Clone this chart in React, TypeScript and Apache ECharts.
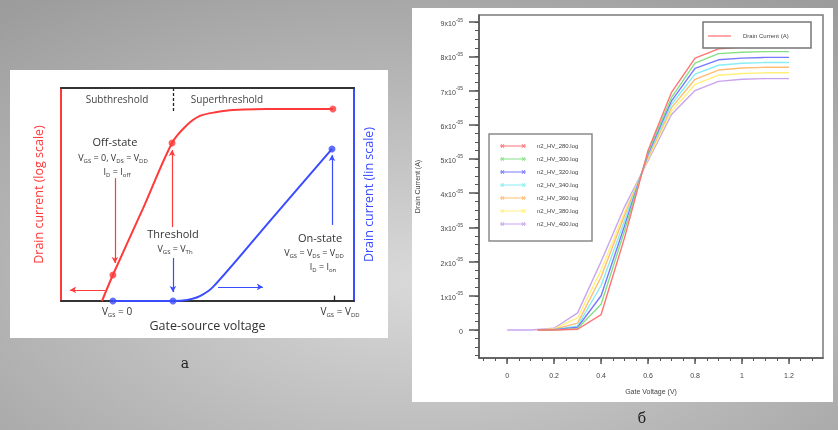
import React, { useEffect, useRef } from "react";
import * as echarts from "echarts";

// ---------- Panel "а": schematic transfer characteristic (normalised units 0..10) ----------
const LOG_CURVE_X = [1.4, 1.77, 2.8, 3.79, 4.3, 4.74, 5.32, 5.87, 7.03, 9.28];
const LOG_CURVE_Y = [0, 1.22, 4.35, 7.42, 8.26, 8.69, 8.87, 8.97, 9.01, 9.01];
const LOG_DOTS_X = [1.77, 3.79, 9.28];
const LOG_DOTS_Y = [1.22, 7.42, 9.01];
const LIN_CURVE_X = [1.77, 3.82, 4.3, 4.74, 5.19, 7.2, 9.25];
const LIN_CURVE_Y = [0, 0, 0.05, 0.23, 0.66, 3.87, 7.14];
const LIN_DOTS_X = [1.77, 3.82, 9.25];
const LIN_DOTS_Y = [0, 0, 7.14];

// ---------- Panel "б": simulated Id–Vg curves (current in units of 1e-5 A) ----------
const VG_FULL = [0, 0.1, 0.2, 0.3, 0.4, 0.5, 0.6, 0.7, 0.8, 0.9, 1.0, 1.1, 1.2];
const VG_PART = [0.13, 0.2, 0.3, 0.4, 0.5, 0.6, 0.7, 0.8, 0.9, 1.0, 1.1, 1.2];
const ID_280 = [0, 0, 0.02, 0.45, 2.7, 5.25, 6.95, 7.95, 8.22, 8.27, 8.28, 8.28];
const ID_300 = [0, 0, 0.04, 0.75, 2.9, 5.2, 6.8, 7.8, 8.08, 8.12, 8.14, 8.14];
const ID_320 = [0, 0.01, 0.08, 1.0, 3.05, 5.15, 6.7, 7.65, 7.9, 7.95, 7.97, 7.97];
const ID_340 = [0, 0.01, 0.12, 1.3, 3.2, 5.1, 6.6, 7.48, 7.74, 7.8, 7.82, 7.82];
const ID_360 = [0, 0.02, 0.2, 1.55, 3.35, 5.05, 6.5, 7.33, 7.6, 7.66, 7.68, 7.68];
const ID_380 = [0, 0.03, 0.35, 1.75, 3.45, 5.0, 6.4, 7.18, 7.45, 7.5, 7.52, 7.52];
const ID_400 = [0, 0, 0.05, 0.5, 2.0, 3.6, 4.95, 6.3, 7.0, 7.27, 7.33, 7.35, 7.35];
const SERIES_NAMES = [
  "n2_HV_280.log",
  "n2_HV_300.log",
  "n2_HV_320.log",
  "n2_HV_340.log",
  "n2_HV_360.log",
  "n2_HV_380.log",
  "n2_HV_400.log",
];
const SERIES_COLORS = ["#ff7373", "#86e086", "#7878ff", "#86eef4", "#ffbd73", "#fff07a", "#c8a4ef"];
const X_TICKS = [0, 0.2, 0.4, 0.6, 0.8, 1.0, 1.2];
const X_TICK_LABELS = ["0", "0.2", "0.4", "0.6", "0.8", "1", "1.2"];
const Y_TICKS = [0, 1, 2, 3, 4, 5, 6, 7, 8, 9];
const Y_EXP = "-05";

const zip = (xs: number[], ys: number[]) => xs.map((x, i) => [x, ys[i]]);

const minorX: number[] = [];
for (let i = -2; i <= 26; i++) minorX.push(+(i * 0.05).toFixed(2));
const minorY: number[] = [];
for (let i = -3; i <= 36; i++) minorY.push(+(i * 0.25).toFixed(2));

const RED = "#ff3a3a";
const BLUE = "#3a4cff";
const SANS = "Open Sans";
const SMALL = "Liberation Sans";

const subRich = (size: number) => ({
  n: { fontSize: size, fontFamily: SANS, fill: "#333", color: "#333", lineHeight: size + 4 },
  s: {
    fontSize: Math.round(size * 0.62),
    fontFamily: SANS,
    fill: "#333",
    color: "#333",
    lineHeight: size + 4,
    verticalAlign: "bottom",
  },
});

const ICON =
  "path://M0,1.6 L26,1.6 L26,2.4 L0,2.4 Z M0.5,0 L1.4,0 L4.5,4 L3.6,4 Z M3.6,0 L4.5,0 L1.4,4 L0.5,4 Z M21.5,0 L22.4,0 L25.5,4 L24.6,4 Z M24.6,0 L25.5,0 L22.4,4 L21.5,4 Z";

const axisLineOf = (color: string, width: number) => ({
  show: true,
  onZero: false,
  lineStyle: { color, width },
});

export default function App() {
  const ref = useRef<HTMLDivElement>(null);
  useEffect(() => {
    if (!ref.current) return;
    const chart = echarts.init(ref.current, null, { renderer: "svg" });

    const arrow = (x1: number, y1: number, x2: number, y2: number, color: string) => [
      { coord: [x1, y1], symbol: "none", lineStyle: { color, width: 1.2, type: "solid" } },
      { coord: [x2, y2], symbol: "arrow", symbolSize: [5, 6] },
    ];

    const rightData = [ID_280, ID_300, ID_320, ID_340, ID_360, ID_380, ID_400];

    const txt = (x: number, y: number, text: string, size: number, extra: any = {}) => ({
      type: "text",
      x,
      y,
      z: 50,
      silent: true,
      style: {
        text,
        fontSize: size,
        fontFamily: SANS,
        fill: "#333",
        align: "center",
        verticalAlign: "middle",
        ...extra,
      },
    });

    const option: any = {
      animation: false,
      graphic: [
        {
          type: "rect",
          z: -20,
          shape: { x: 0, y: 0, width: 838, height: 430 },
          style: {
            fill: {
              type: "radial",
              x: 0.5,
              y: 0.65,
              r: 0.8,
              colorStops: [
                { offset: 0, color: "#d9d9d9" },
                { offset: 1, color: "#9c9c9c" },
              ],
            },
          },
          silent: true,
        },
        { type: "rect", z: -10, silent: true, shape: { x: 10, y: 70, width: 378, height: 268 }, style: { fill: "#fff" } },
        { type: "rect", z: -10, silent: true, shape: { x: 412, y: 8, width: 421, height: 394 }, style: { fill: "#fff" } },
        // panel captions
        txt(185, 363, "а", 14, { fontFamily: "DejaVu Serif", fill: "#222" }),
        txt(642, 418, "б", 14, { fontFamily: "DejaVu Serif", fill: "#222" }),
        // panel а annotations
        txt(117, 99, "Subthreshold", 10, { fill: "#444" }),
        txt(227, 99, "Superthreshold", 10, { fill: "#444" }),
        txt(115, 141, "Off-state", 11),
        txt(113, 157, "{n|V}{s|GS}{n| = 0, V}{s|DS}{n| = V}{s|DD}", 9, { rich: subRich(9) }),
        txt(117, 171, "{n|I}{s|D}{n| = I}{s|off}", 9, { rich: subRich(9) }),
        txt(173, 233, "Threshold", 11),
        txt(175, 248, "{n|V}{s|GS}{n| = V}{s|Th}", 9, { rich: subRich(9) }),
        txt(320, 237, "On-state", 11),
        txt(314, 252, "{n|V}{s|GS}{n| = V}{s|DS}{n| = V}{s|DD}", 9, { rich: subRich(9) }),
        txt(323, 266, "{n|I}{s|D}{n| = I}{s|on}", 9, { rich: subRich(9) }),
        txt(117, 311, "{n|V}{s|GS}{n| = 0}", 10, { rich: subRich(10) }),
        txt(340, 311, "{n|V}{s|GS}{n| = V}{s|DD}", 10, { rich: subRich(10) }),
        // panel б legend boxes
        {
          type: "rect",
          z: 40,
          silent: true,
          shape: { x: 489, y: 134, width: 103, height: 107 },
          style: { fill: "#fff", stroke: "#8a8a8a", lineWidth: 1.5 },
        },
        {
          type: "rect",
          z: 40,
          silent: true,
          shape: { x: 703, y: 22, width: 108, height: 26 },
          style: { fill: "#fff", stroke: "#777", lineWidth: 1.5 },
        },
        {
          type: "line",
          z: 41,
          silent: true,
          shape: { x1: 708, y1: 36, x2: 731, y2: 36 },
          style: { stroke: "#ff8a8a", lineWidth: 1.5 },
        },
        {
          type: "text",
          z: 41,
          x: 743,
          y: 36,
          silent: true,
          style: { text: "Drain Current (A)", fontSize: 6, fontFamily: SMALL, fill: "#444", verticalAlign: "middle" },
        },
      ],
      legend: {
        data: SERIES_NAMES,
        orient: "vertical",
        left: 500,
        top: 143,
        padding: 0,
        itemWidth: 26,
        itemHeight: 4,
        itemGap: 7,
        icon: ICON,
        selectedMode: false,
        z: 45,
        textStyle: { fontSize: 6, fontFamily: SMALL, color: "#444", padding: [0, 0, 0, 6] },
      },
      grid: [
        { left: 61, top: 88, width: 293, height: 213, show: true, borderColor: "#333", borderWidth: 1.5 },
        { left: 479, top: 15, width: 344, height: 343, show: true, borderColor: "#7a7a7a", borderWidth: 1.5 },
      ],
      xAxis: [
        {
          gridIndex: 0,
          type: "value",
          position: "bottom",
          min: 0,
          max: 10,
          axisLine: axisLineOf("#333", 2),
          axisTick: { show: false },
          axisLabel: { show: false },
          splitLine: { show: false },
          name: "Gate-source voltage",
          nameLocation: "middle",
          nameGap: 18,
          nameTextStyle: { fontSize: 12.5, color: "#333", fontFamily: SANS },
        },
        {
          gridIndex: 0,
          type: "value",
          position: "top",
          min: 0,
          max: 10,
          axisLine: axisLineOf("#333", 2),
          axisTick: { show: false },
          axisLabel: { show: false },
          splitLine: { show: false },
        },
        {
          gridIndex: 1,
          type: "value",
          position: "bottom",
          min: -0.12,
          max: 1.345,
          axisLine: axisLineOf("#555", 1.5),
          axisTick: { show: true, customValues: X_TICKS, length: 6, lineStyle: { color: "#555", width: 1.5 } },
          axisLabel: {
            customValues: X_TICKS,
            formatter: (v: number) => X_TICK_LABELS[X_TICKS.findIndex((t) => Math.abs(t - v) < 1e-6)] ?? "",
            fontSize: 7,
            fontFamily: SMALL,
            color: "#444",
            margin: 14,
          },
          splitLine: { show: false },
          name: "Gate Voltage (V)",
          nameLocation: "middle",
          nameGap: 30,
          nameTextStyle: { fontSize: 7, fontFamily: SMALL, color: "#444" },
        },
        {
          gridIndex: 1,
          type: "value",
          position: "bottom",
          offset: 0,
          min: -0.12,
          max: 1.345,
          axisLine: { show: false, onZero: false },
          axisTick: { show: true, customValues: minorX, length: 3, lineStyle: { color: "#555", width: 1 } },
          axisLabel: { show: false },
          splitLine: { show: false },
        },
      ],
      yAxis: [
        {
          gridIndex: 0,
          type: "value",
          position: "left",
          min: 0,
          max: 10,
          axisLine: axisLineOf(RED, 2),
          axisTick: { show: false },
          axisLabel: { show: false },
          splitLine: { show: false },
          name: "Drain current (log scale)",
          nameLocation: "middle",
          nameRotate: 90,
          nameGap: 16,
          nameTextStyle: { fontSize: 12.5, color: RED, fontFamily: SANS },
        },
        {
          gridIndex: 0,
          type: "value",
          position: "right",
          min: 0,
          max: 10,
          axisLine: axisLineOf(BLUE, 2),
          axisTick: { show: false },
          axisLabel: { show: false },
          splitLine: { show: false },
          name: "Drain current (lin scale)",
          nameLocation: "middle",
          nameRotate: 90,
          nameGap: 8,
          nameTextStyle: { fontSize: 12.5, color: BLUE, fontFamily: SANS },
        },
        {
          gridIndex: 1,
          type: "value",
          position: "left",
          min: -0.82,
          max: 9.21,
          axisLine: axisLineOf("#555", 1.5),
          axisTick: { show: true, customValues: Y_TICKS, length: 10, lineStyle: { color: "#555", width: 1.5 } },
          axisLabel: {
            customValues: Y_TICKS,
            formatter: (v: number) => (Math.abs(v) < 1e-9 ? "{m|0}" : `{m|${Math.round(v)}x10}{s|${Y_EXP}}`),
            margin: 16,
            rich: {
              m: { fontSize: 7, fontFamily: SMALL, color: "#444", lineHeight: 10, verticalAlign: "bottom" },
              s: { fontSize: 5, fontFamily: SMALL, color: "#444", lineHeight: 10, verticalAlign: "top" },
            },
          },
          splitLine: { show: false },
          name: "Drain Current (A)",
          nameLocation: "middle",
          nameRotate: 90,
          nameGap: 58,
          nameTextStyle: { fontSize: 7, fontFamily: SMALL, color: "#444" },
        },
        {
          gridIndex: 1,
          type: "value",
          position: "left",
          offset: 0,
          min: -0.82,
          max: 9.21,
          axisLine: { show: false, onZero: false },
          axisTick: { show: true, customValues: minorY, length: 4, lineStyle: { color: "#555", width: 1 } },
          axisLabel: { show: false },
          splitLine: { show: false },
        },
      ],
      series: [
        {
          name: "log-scale current",
          type: "line",
          xAxisIndex: 0,
          yAxisIndex: 0,
          data: zip(LOG_CURVE_X, LOG_CURVE_Y),
          smooth: 0.3,
          showSymbol: false,
          lineStyle: { color: RED, width: 2 },
          silent: true,
          z: 5,
          markLine: {
            silent: true,
            label: { show: false },
            symbol: ["none", "arrow"],
            data: [
              arrow(1.84, 5.77, 1.84, 1.78, RED),
              arrow(3.79, 3.47, 3.79, 7.09, RED),
              arrow(1.5, 0.52, 0.31, 0.52, RED),
            ],
          },
        },
        {
          name: "lin-scale current",
          type: "line",
          xAxisIndex: 0,
          yAxisIndex: 1,
          data: zip(LIN_CURVE_X, LIN_CURVE_Y),
          smooth: 0.3,
          showSymbol: false,
          lineStyle: { color: BLUE, width: 2 },
          silent: true,
          z: 5,
          markLine: {
            silent: true,
            label: { show: false },
            symbol: ["none", "arrow"],
            data: [
              arrow(3.82, 2.02, 3.82, 0.42, BLUE),
              arrow(9.25, 3.57, 9.25, 6.85, BLUE),
              arrow(5.36, 0.66, 6.89, 0.66, BLUE),
              [
                { coord: [3.82, 10], symbol: "none", lineStyle: { color: "#222", width: 1.3, type: [3, 2] } },
                { coord: [3.82, 8.83], symbol: "none" },
              ],
              [
                { coord: [9.32, 0], symbol: "none", lineStyle: { color: "#222", width: 1.3, type: "solid" } },
                { coord: [9.32, 0.25], symbol: "none" },
              ],
            ],
          },
        },
        {
          name: "log dots",
          type: "scatter",
          xAxisIndex: 0,
          yAxisIndex: 0,
          data: zip(LOG_DOTS_X, LOG_DOTS_Y),
          symbolSize: 7,
          itemStyle: { color: RED },
          silent: true,
          z: 6,
        },
        {
          name: "lin dots",
          type: "scatter",
          xAxisIndex: 0,
          yAxisIndex: 1,
          data: zip(LIN_DOTS_X, LIN_DOTS_Y),
          symbolSize: 7,
          itemStyle: { color: BLUE },
          silent: true,
          z: 6,
        },
        ...SERIES_NAMES.map((name, i) => ({
          name,
          type: "line",
          xAxisIndex: 2,
          yAxisIndex: 2,
          data: zip(i === 6 ? VG_FULL : VG_PART, rightData[i]),
          showSymbol: false,
          symbol: "none",
          color: SERIES_COLORS[i],
          lineStyle: { color: SERIES_COLORS[i], width: 1.4 },
          itemStyle: { color: SERIES_COLORS[i] },
          silent: true,
          z: 10 - i,
        })),
      ],
    };
    chart.setOption(option);
    return () => chart.dispose();
  }, []);
  return <div ref={ref} style={{ position: "fixed", left: 0, top: 0, width: 838, height: 430 }} />;
}
